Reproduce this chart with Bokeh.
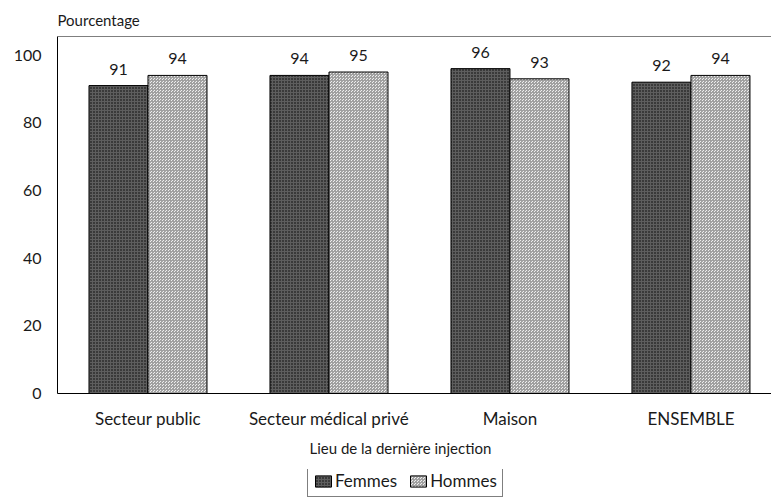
import numpy as np
from bokeh.plotting import figure
from bokeh.layouts import column
from bokeh.models import (ColumnDataSource, Range1d, FixedTicker, Span, Title,
                          Legend, LegendItem)
from bokeh.core.properties import value
from bokeh.embed import file_html
from bokeh.resources import INLINE

categories = ["Secteur public", "Secteur médical privé", "Maison", "ENSEMBLE"]
femmes = [91, 94, 96, 92]
hommes = [94, 95, 93, 94]
series = ["Femmes", "Hommes"]
y_ticks = [0, 20, 40, 60, 80, 100]

FONT = "Lato"
TXT = "#1a1a1a"
STY_F = dict(fill_color="#3a3a3a", line_color="black", line_width=1,
             hatch_pattern="cross", hatch_color="#5e5e5e", hatch_scale=3, hatch_weight=1)
STY_H = dict(fill_color="#eeeeee", line_color="black", line_width=1,
             hatch_pattern="criss_cross", hatch_color="#a0a0a0", hatch_scale=3, hatch_weight=1)

n = len(categories)
centers = np.arange(n) + 0.5
bw = 0.326

src_f = ColumnDataSource(dict(x=centers - bw / 2, top=femmes, lab=[str(v) for v in femmes]))
src_h = ColumnDataSource(dict(x=centers + bw / 2, top=hommes, lab=[str(v) for v in hommes]))

p = figure(width=771, height=469, output_backend="svg", toolbar_location=None,
           x_range=Range1d(0, 3.945), y_range=Range1d(0, 105.5),
           min_border_left=57, min_border_right=0, min_border_top=36,
           min_border_bottom=76)
p.outline_line_color = None
p.grid.visible = False
p.background_fill_color = "white"

p.vbar(x="x", top="top", width=bw, source=src_f, **STY_F)
p.vbar(x="x", top="top", width=bw, source=src_h, **STY_H)

for s in (src_f, src_h):
    p.text(x="x", y="top", text="lab", source=s, text_align="center",
           text_baseline="bottom", y_offset=-11, text_font=value(FONT),
           text_font_size="16px", text_color=TXT)

# axes
for ax in (p.xaxis, p.yaxis):
    ax.major_tick_line_color = None
    ax.minor_tick_line_color = None
    ax.major_tick_out = 0
    ax.major_tick_in = 0
    ax.minor_tick_out = 0
    ax.minor_tick_in = 0
    ax.axis_line_color = "black"
    ax.axis_line_width = 1
    ax.major_label_text_font = FONT
    ax.major_label_text_color = TXT

p.yaxis.ticker = FixedTicker(ticks=y_ticks)
p.yaxis.major_label_standoff = 16
p.yaxis.major_label_text_font_size = "16px"

p.xaxis.ticker = FixedTicker(ticks=list(centers))
p.xaxis.major_label_overrides = {float(c): cat for c, cat in zip(centers, categories)}
p.xaxis.major_label_standoff = 14
p.xaxis.major_label_text_font_size = "17px"

p.add_layout(Span(location=105.5, dimension="width", line_color="black", line_width=1))

# y-axis unit label
p.title.text = "Pourcentage"
p.title.align = "left"
p.title.offset = 0
p.title.standoff = 15
p.title.text_font = FONT
p.title.text_font_size = "15px"
p.title.text_font_style = "normal"
p.title.text_color = TXT

# x-axis title
xt = Title(text="Lieu de la dernière injection", align="left", offset=252,
           text_font=FONT, text_font_size="15px", text_font_style="normal",
           text_color=TXT, standoff=10)
p.add_layout(xt, "below")

# legend strip (same data, drawn out of view so only the legend shows)
lg = figure(width=771, height=30, output_backend="svg", toolbar_location=None,
            x_range=Range1d(0, 1), y_range=Range1d(1000, 1001),
            min_border=0, x_axis_location=None, y_axis_location=None)
lg.outline_line_color = None
lg.grid.visible = False
lf = lg.vbar(x="x", top="top", width=bw, source=src_f, **STY_F)
lh = lg.vbar(x="x", top="top", width=bw, source=src_h, **STY_H)

legend = Legend(items=[LegendItem(label=series[0], renderers=[lf]),
                       LegendItem(label=series[1], renderers=[lh])],
                orientation="horizontal", location=(250, 2),
                border_line_color="black", border_line_width=1,
                padding=5, margin=0, spacing=11, label_standoff=2,
                glyph_width=20, glyph_height=14,
                label_text_font=FONT, label_text_font_size="17px",
                label_text_color=TXT, label_height=18)
lg.add_layout(legend, "center")

layout = column(p, lg, spacing=0)
open("out.html", "w").write(file_html(layout, INLINE))
